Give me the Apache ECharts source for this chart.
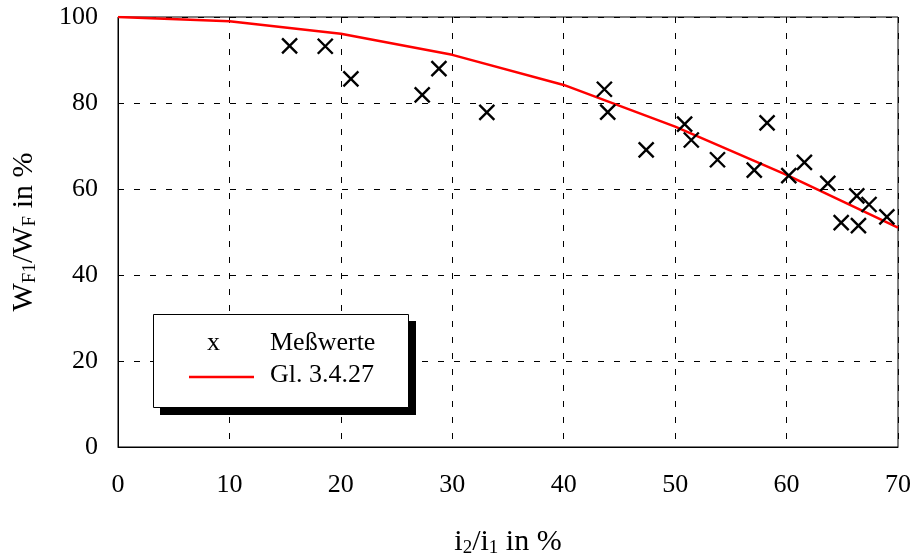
<!DOCTYPE html>
<html><head><meta charset="utf-8">
<script src="https://cdn.jsdelivr.net/npm/echarts@6/dist/echarts.min.js"></script>
<style>html,body{margin:0;padding:0;background:#fff}#c{width:914px;height:555px}</style>
</head><body><div id="c"></div>
<script>
// Measured values (i2/i1 in %, WF1/WF in %)
const measX = [15.4, 18.6, 20.9, 27.3, 28.8, 33.1, 43.65, 43.95, 47.4, 50.85, 51.45, 53.8, 57.1, 58.25, 60.2, 61.6, 63.7, 64.9, 66.3, 66.45, 67.4, 69.0];
const measY = [93.3, 93.2, 85.6, 81.9, 88.0, 77.8, 83.2, 77.9, 69.1, 75.1, 71.4, 66.8, 64.4, 75.4, 63.1, 66.2, 61.3, 52.2, 58.4, 51.5, 56.4, 53.5];
// Gl. 3.4.27 curve
const curveX = [0, 10, 20, 30, 40, 50, 60, 70];
const curveY = [100, 99.0, 96.1, 91.2, 84.2, 74.5, 63.3, 51.0];
const xTicks = [0, 10, 20, 30, 40, 50, 60, 70];
const yTicks = [0, 20, 40, 60, 80, 100];

const FONT = '"Liberation Serif", "DejaVu Serif", serif';
const chart = echarts.init(document.getElementById('c'));
const rich = {
  n: {fontFamily: FONT, fontSize: 30, color: '#000'},
  s: {fontFamily: FONT, fontSize: 19, color: '#000', padding: [12, 0, 0, 0]}
};
chart.setOption({
  animation: false,
  grid: {left: 118, right: 16, top: 17, bottom: 108, outerBoundsMode: 'none', containLabel: false,
    show: true, borderColor: '#000', borderWidth: 1, backgroundColor: 'transparent'},
  xAxis: {
    type: 'value', min: 0, max: 70, interval: 10,
    axisLine: {show: true, lineStyle: {color: '#000', width: 1}},
    axisTick: {show: false},
    axisLabel: {fontFamily: FONT, fontSize: 26, color: '#000', margin: 25,
      formatter: v => xTicks.includes(v) ? String(v) : ''},
    splitLine: {show: true, lineStyle: {color: '#000', type: [6, 10], width: 1}},
    name: '{n|i}{s|2}{n|/i}{s|1}{n| in %}',
    nameLocation: 'middle', nameGap: 80,
    nameTextStyle: {rich: rich}
  },
  yAxis: {
    type: 'value', min: 0, max: 100, interval: 20,
    axisLine: {show: true, lineStyle: {color: '#000', width: 1}},
    axisTick: {show: false},
    axisLabel: {fontFamily: FONT, fontSize: 26, color: '#000', margin: 20,
      formatter: v => yTicks.includes(v) ? String(v) : ''},
    splitLine: {show: true, lineStyle: {color: '#000', type: [6, 10], width: 1}},
    name: '{n|W}{s|F1}{n|/W}{s|F}{n| in %}',
    nameLocation: 'middle', nameGap: 78, nameRotate: 90,
    nameTextStyle: {rich: rich}
  },
  series: [
    {
      type: 'line', name: 'Gl. 3.4.27',
      data: curveX.map((x, i) => [x, curveY[i]]),
      showSymbol: false, symbol: 'none',
      lineStyle: {color: '#ff0000', width: 2.5},
      z: 3
    },
    {
      type: 'scatter', name: 'Meßwerte',
      data: measX.map((x, i) => [x, measY[i]]),
      symbol: 'path://M0,0L10,10M10,0L0,10',
      symbolSize: 15,
      itemStyle: {color: 'none', borderColor: '#000', borderWidth: 2.4, opacity: 1},
      z: 4
    }
  ],
  graphic: [
    {type: 'rect', left: 160, top: 321, shape: {width: 256, height: 94}, style: {fill: '#000'}, z: 10},
    {type: 'rect', left: 153, top: 314, shape: {width: 255, height: 93}, style: {fill: '#fff', stroke: '#000', lineWidth: 1}, z: 11},
    {type: 'text', left: 207, top: 330, style: {text: 'x', font: '26px ' + FONT, fill: '#000'}, z: 12},
    {type: 'line', shape: {x1: 189, y1: 377, x2: 254, y2: 377}, style: {stroke: '#ff0000', lineWidth: 2.5}, z: 12},
    {type: 'text', left: 270, top: 330, style: {text: 'Meßwerte', font: '26px ' + FONT, fill: '#000'}, z: 12},
    {type: 'text', left: 270, top: 362, style: {text: 'Gl. 3.4.27', font: '26px ' + FONT, fill: '#000'}, z: 12}
  ]
});
</script></body></html>
